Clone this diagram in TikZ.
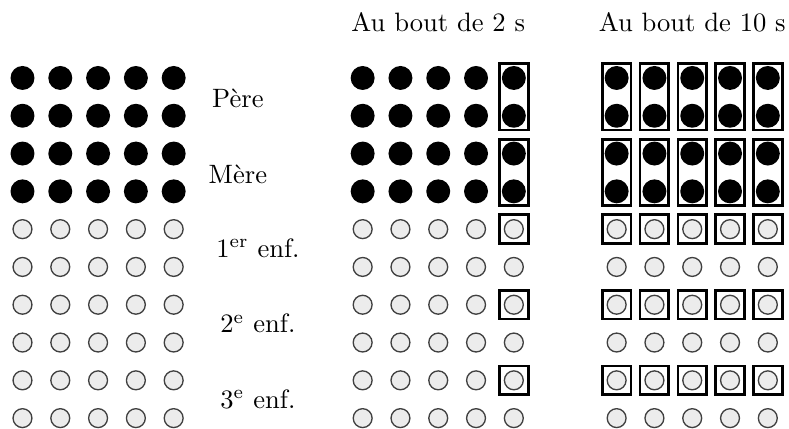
\documentclass[tikz,border=0pt]{standalone}
\usepackage{fontspec}
\usetikzlibrary{fit}
\tikzset{
  adult/.style={circle,fill=black,inner sep=0pt,minimum size=0.317cm},
  child/.style={circle,draw=black!75,line width=0.5pt,fill=gray!15,inner sep=0pt,minimum size=0.25cm},
  cell/.style={draw,line width=1pt,rectangle,inner sep=0.19cm}
}

\begin{document}
\begin{tikzpicture}[x=0.5cm,y=0.5cm]
  \useasboundingbox (-0.595,-0.286) rectangle (20.28,11.063);
  % three grids: start, after 2 s, after 10 s
  \foreach \g/\dx in {ini/0,two/9,ten/15.72} {
    \foreach \c in {0,...,4} {
      \foreach \r in {6,...,9} \node[adult] (\g-\c-\r) at (\dx+\c,\r) {};
      \foreach \r in {0,...,5} \node[child] (\g-\c-\r) at (\dx+\c,\r) {};
    }
  }
  % row labels
  \node (pere) at (5.7,8.45) {Père};
  \node (mere) at (5.7,6.45) {Mère};
  \node (enf1) at (6.23,4.5) {1\textsuperscript{er} enf.};
  \node (enf2) at (6.23,2.5) {2\textsuperscript{e} enf.};
  \node (enf3) at (6.23,0.5) {3\textsuperscript{e} enf.};
  % titles
  \node[anchor=base] (tdeux) at (11,10.24) {Au bout de 2 s};
  \node[anchor=base] (tdix) at (17.72,10.24) {Au bout de 10 s};
  % boxes
  \foreach \r/\s in {9/8,7/6,5/5,3/3,1/1} {
    \node[cell,fit=(two-4-\r.center)(two-4-\s.center)] (two-box-\r) {};
    \foreach \c in {0,...,4}
      \node[cell,fit=(ten-\c-\r.center)(ten-\c-\s.center)] (ten-box-\c-\r) {};
  }
\end{tikzpicture}
\end{document}
